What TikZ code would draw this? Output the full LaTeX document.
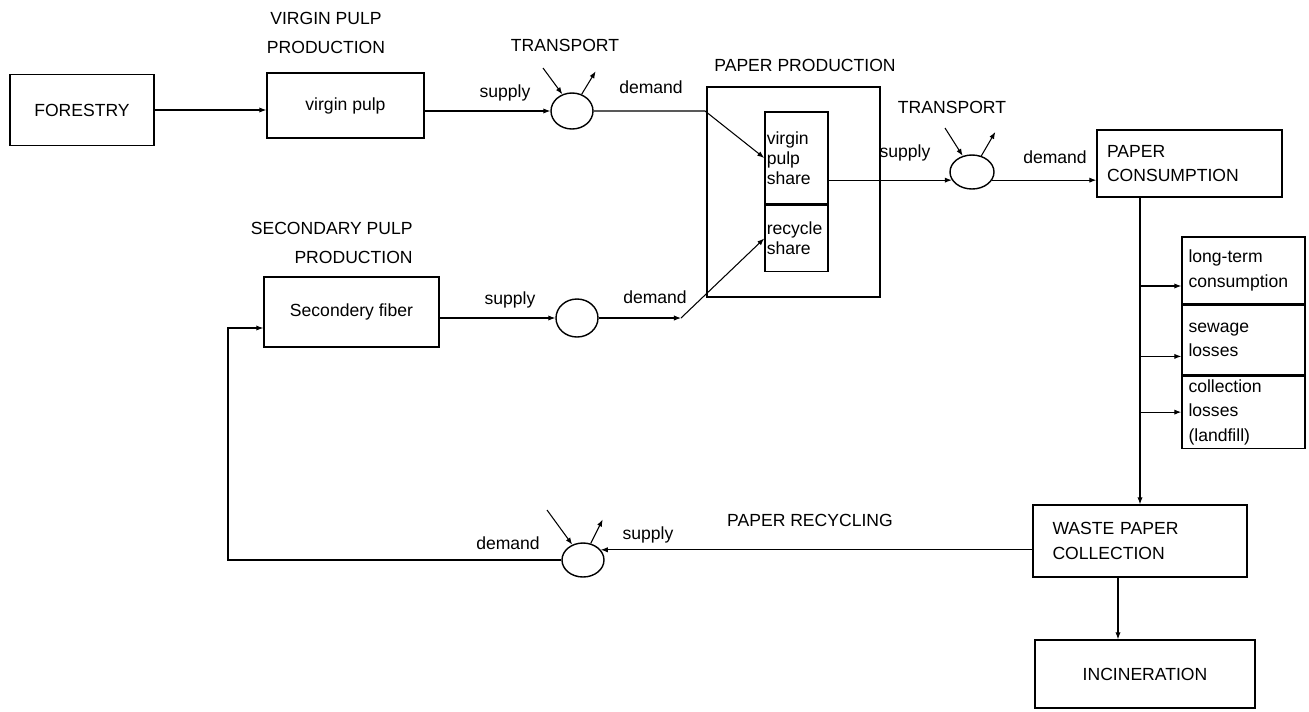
\documentclass[tikz,border=0pt]{standalone}
\usepackage{fontspec}
\setmainfont{Liberation Sans}
\usetikzlibrary{arrows.meta, positioning, calc, shapes.geometric}

\begin{document}
\begin{tikzpicture}[
	>={Latex[length=4pt,width=3pt]},
	box/.style={rectangle, draw=black, line width=0.8pt, align=center, font=\fontsize{10}{14}\selectfont, inner sep=2pt},
	leftbox/.style={box, align=left},
	stack/.style={leftbox, text width=2.2cm, inner xsep=0.13cm, minimum width=2.46cm},
	share/.style={rectangle, draw=black, line width=0.8pt, align=left, font=\fontsize{10}{11.5}\selectfont, inner xsep=1pt, text width=1.19cm, minimum width=1.26cm},
	flow/.style={ellipse, draw=black, line width=0.8pt, inner sep=0pt},
	lbl/.style={font=\fontsize{10}{12}\selectfont, inner sep=0pt},
	heading/.style={font=\fontsize{10}{17}\selectfont, inner sep=0pt},
	arrow/.style={->, line width=0.6pt}
	]
	\useasboundingbox (0,0) rectangle (26.18,-14.22);
	
	% --- Virgin pulp chain ---
	\node[box, minimum width=2.88cm, minimum height=1.42cm] (forestry) at (1.64,-2.2) {FORESTRY};
	\node[box, minimum width=3.14cm, minimum height=1.3cm] (vpulp) at (6.91,-2.11) {virgin pulp};
	\node[heading, align=center] (vpulp_t) at (6.52,-0.66) {VIRGIN PULP\\PRODUCTION};
	\node[flow, minimum width=0.84cm, minimum height=0.72cm] (circ1) at (11.44,-2.22) {};
	\node[lbl] (trans1_t) at (11.3,-0.9) {TRANSPORT};
	\node[lbl] (sup1) at (10.1,-1.86) {supply};
	\node[lbl] (dem1) at (13.02,-1.74) {demand};
	\coordinate (j1) at (14.1,-2.22);
	
	% --- Paper production ---
	\node[draw=black, line width=0.8pt, minimum width=3.46cm, minimum height=4.2cm] (paperprod) at (15.87,-3.84) {};
	\node[lbl] (paperprod_t) at (16.1,-1.3) {PAPER PRODUCTION};
	\node[share, minimum height=1.84cm] (vshare) at (15.93,-3.16) {virgin\\pulp\\share};
	\node[share, minimum height=1.32cm, below=0pt of vshare] (rshare) {recycle\\share};
	
	% --- Consumption ---
	\node[flow, minimum width=0.88cm, minimum height=0.68cm] (circ2) at (19.44,-3.44) {};
	\node[lbl] (trans2_t) at (19.04,-2.14) {TRANSPORT};
	\node[lbl] (sup2) at (18.1,-3.06) {supply};
	\node[lbl] (dem2) at (21.1,-3.14) {demand};
	\node[leftbox, text width=3.3cm, inner xsep=0.2cm, minimum height=1.34cm] (cons) at (23.79,-3.27) {PAPER\\CONSUMPTION};
	\node[stack, minimum height=1.34cm] (ltc) at (24.87,-5.41) {long-term\\consumption};
	\node[stack, minimum height=1.38cm, below=0pt of ltc] (sew) {sewage\\losses};
	\node[stack, minimum height=1.38cm, below=0pt of sew] (col) {collection\\losses\\(landfill)};
	
	% --- Collection and incineration ---
	\node[leftbox, text width=3.5cm, inner xsep=0.39cm, minimum height=1.44cm] (waste) at (22.8,-10.82) {WASTE PAPER\\COLLECTION};
	\node[box, minimum width=4.4cm, minimum height=1.36cm] (inc) at (22.9,-13.48) {INCINERATION};
	
	% --- Recycling loop ---
	\node[flow, minimum width=0.84cm, minimum height=0.68cm] (circ3) at (11.66,-11.2) {};
	\node[lbl] (sup3) at (12.96,-10.7) {supply};
	\node[lbl] (recyc_t) at (16.2,-10.4) {PAPER RECYCLING};
	\node[lbl] (dem3) at (10.16,-10.86) {demand};
	\coordinate (ret) at (4.56,-6.56);
	
	% --- Secondary pulp chain ---
	\node[box, minimum width=3.5cm, minimum height=1.4cm] (sfiber) at (7.03,-6.24) {Secondery fiber};
	\node[heading, align=right, anchor=east] (sfiber_t) at (8.26,-4.86) {SECONDARY PULP\\PRODUCTION};
	\node[flow, minimum width=0.84cm, minimum height=0.76cm] (circ4) at (11.54,-6.36) {};
	\node[lbl] (sup4) at (10.2,-6.0) {supply};
	\node[lbl] (dem4) at (13.1,-5.94) {demand};
	\coordinate (j2) at (13.62,-6.36);
	
	% --- Flows ---
	\draw[arrow] (forestry.east) -- (forestry.east -| vpulp.west);
	\draw[arrow] (vpulp.east |- circ1.west) -- (circ1.west);
	\draw[arrow] (circ1.east) -- (j1) -- (vshare.west);
	\draw[arrow] (vshare.east |- circ2.202) -- (circ2.202);
	\draw[arrow] (circ2.338) -- (circ2.338 -| cons.west);
	
	\draw[arrow] (cons.south -| waste.north) -- (waste.north);
	\coordinate (b1) at ($(ltc.west)+(0,-0.31)$);
	\coordinate (b2) at ($(sew.west)+(0,-0.33)$);
	\coordinate (b3) at (col.west);
	\draw[arrow] (b1 -| waste.north) -- (b1);
	\draw[arrow] (b2 -| waste.north) -- (b2);
	\draw[arrow] (b3 -| waste.north) -- (b3);
	
	\coordinate (w2) at ($(waste.south)+(-0.44,0)$);
	\draw[arrow] (w2) -- (w2 |- inc.north);
	
	\draw[arrow] (waste.west |- circ3.30) -- (circ3.30);
	\draw[arrow] (circ3.west) -| (ret) -- (ret -| sfiber.west);
	
	\draw[arrow] (sfiber.east |- circ4.west) -- (circ4.west);
	\draw[arrow] (circ4.east) -- (j2);
	\draw[arrow] (j2) -- (rshare.west);
	
	% --- Transport stubs ---
	\draw[arrow] ($(circ1.center)+(-0.58,0.86)$) -- (circ1.120);
	\draw[arrow] (circ1.60) -- ++(0.28,0.46);
	\draw[arrow] ($(circ2.center)+(-0.54,0.88)$) -- (circ2.120);
	\draw[arrow] (circ2.60) -- ++(0.28,0.48);
	\draw[arrow] ($(circ3.center)+(-0.72,1.0)$) -- (circ3.125);
	\draw[arrow] (circ3.65) -- ++(0.24,0.48);
	
\end{tikzpicture}
\end{document}
